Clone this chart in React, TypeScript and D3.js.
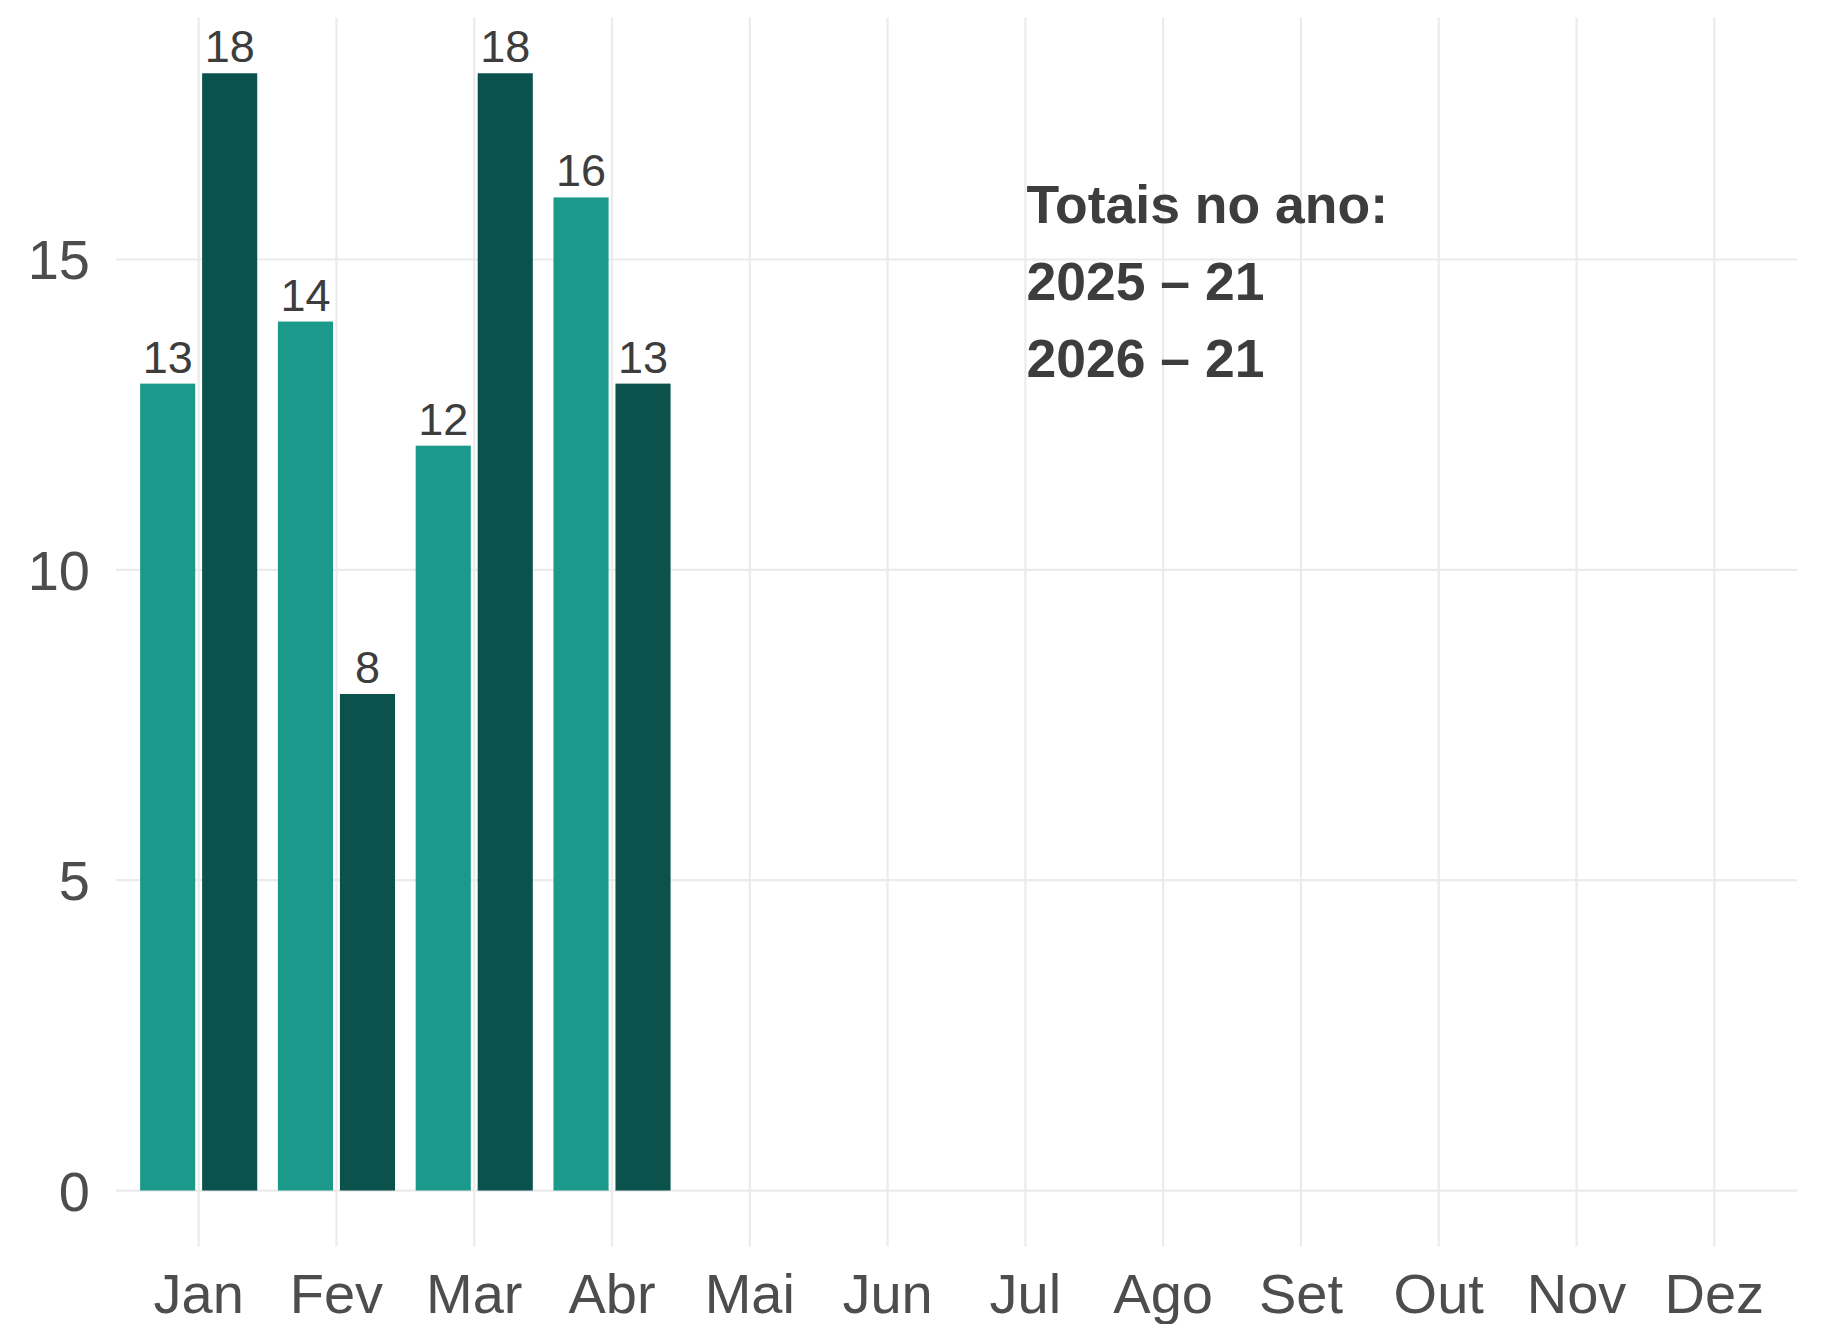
import React from "react";
import * as d3 from "d3";

const months = ["Jan", "Fev", "Mar", "Abr", "Mai", "Jun", "Jul", "Ago", "Set", "Out", "Nov", "Dez"];
const seriesNames = ["2025", "2026"];
const values2025 = [13, 14, 12, 16];
const values2026 = [18, 8, 18, 13];
const yTicks = [0, 5, 10, 15];
const seriesColors = ["#1B9A8B", "#0B524C"];
const annotationLines = ["Totais no ano:", "2025 – 21", "2026 – 21"];

const W = 1823;
const H = 1324;
const panel = { left: 116, right: 1797, top: 17.4, bottom: 1246.4 };

export default function App() {
  React.useEffect(() => {
    document.body.style.margin = "0";
  }, []);

  const x = d3.scalePoint<string>().domain(months).range([panel.left, panel.right]).padding(0.6);
  const step = x.step();
  const inner = d3
    .scaleBand<string>()
    .domain(seriesNames)
    .range([-0.45 * step, 0.45 * step])
    .paddingInner(1 / 9)
    .paddingOuter(1 / 18);
  const maxV = d3.max([...values2025, ...values2026]) as number;
  const pad = maxV * 0.05;
  const y = d3.scaleLinear().domain([-pad, maxV + pad]).range([panel.bottom, panel.top]);

  const bars: { m: string; s: string; v: number; c: string }[] = [];
  [values2025, values2026].forEach((arr, si) => {
    arr.forEach((v, i) => bars.push({ m: months[i], s: seriesNames[si], v, c: seriesColors[si] }));
  });

  const font = "'Liberation Sans', Arial, Helvetica, sans-serif";
  const gridColor = "#EBEBEB";

  return (
    <svg width={W} height={H} style={{ position: "absolute", left: 0, top: 0, background: "#fff" }} fontFamily={font}>
      <rect x={0} y={0} width={W} height={H} fill="#fff" />
      {yTicks.map((t) => (
        <line key={"gy" + t} x1={panel.left} x2={panel.right} y1={y(t)} y2={y(t)} stroke={gridColor} strokeWidth={2.2} />
      ))}
      {months.map((m) => (
        <line key={"gx" + m} x1={x(m)} x2={x(m)} y1={panel.top} y2={panel.bottom} stroke={gridColor} strokeWidth={2.2} />
      ))}
      {bars.map((b) => {
        const bx = (x(b.m) as number) + (inner(b.s) as number);
        return (
          <rect key={b.m + b.s} x={bx} y={y(b.v)} width={inner.bandwidth()} height={y(0) - y(b.v)} fill={b.c} />
        );
      })}
      {bars.map((b) => {
        const cx = (x(b.m) as number) + (inner(b.s) as number) + inner.bandwidth() / 2;
        return (
          <text key={"l" + b.m + b.s} x={cx} y={y(b.v) - 11} textAnchor="middle" fontSize={45} fill="#3D3D3D">
            {b.v}
          </text>
        );
      })}
      {yTicks.map((t) => (
        <text key={"ty" + t} x={90} y={y(t) + 20} textAnchor="end" fontSize={56} fill="#4D4D4D">
          {t}
        </text>
      ))}
      {months.map((m) => (
        <text key={"tx" + m} x={x(m)} y={1313} textAnchor="middle" fontSize={56} fill="#4D4D4D">
          {m}
        </text>
      ))}
      {annotationLines.map((l, i) => (
        <text key={"a" + i} x={(x("Jul") as number) + 1} y={223.3 + i * 76.7} fontSize={53.5} fontWeight="bold" fill="#3D3D3D">
          {l}
        </text>
      ))}
    </svg>
  );
}
